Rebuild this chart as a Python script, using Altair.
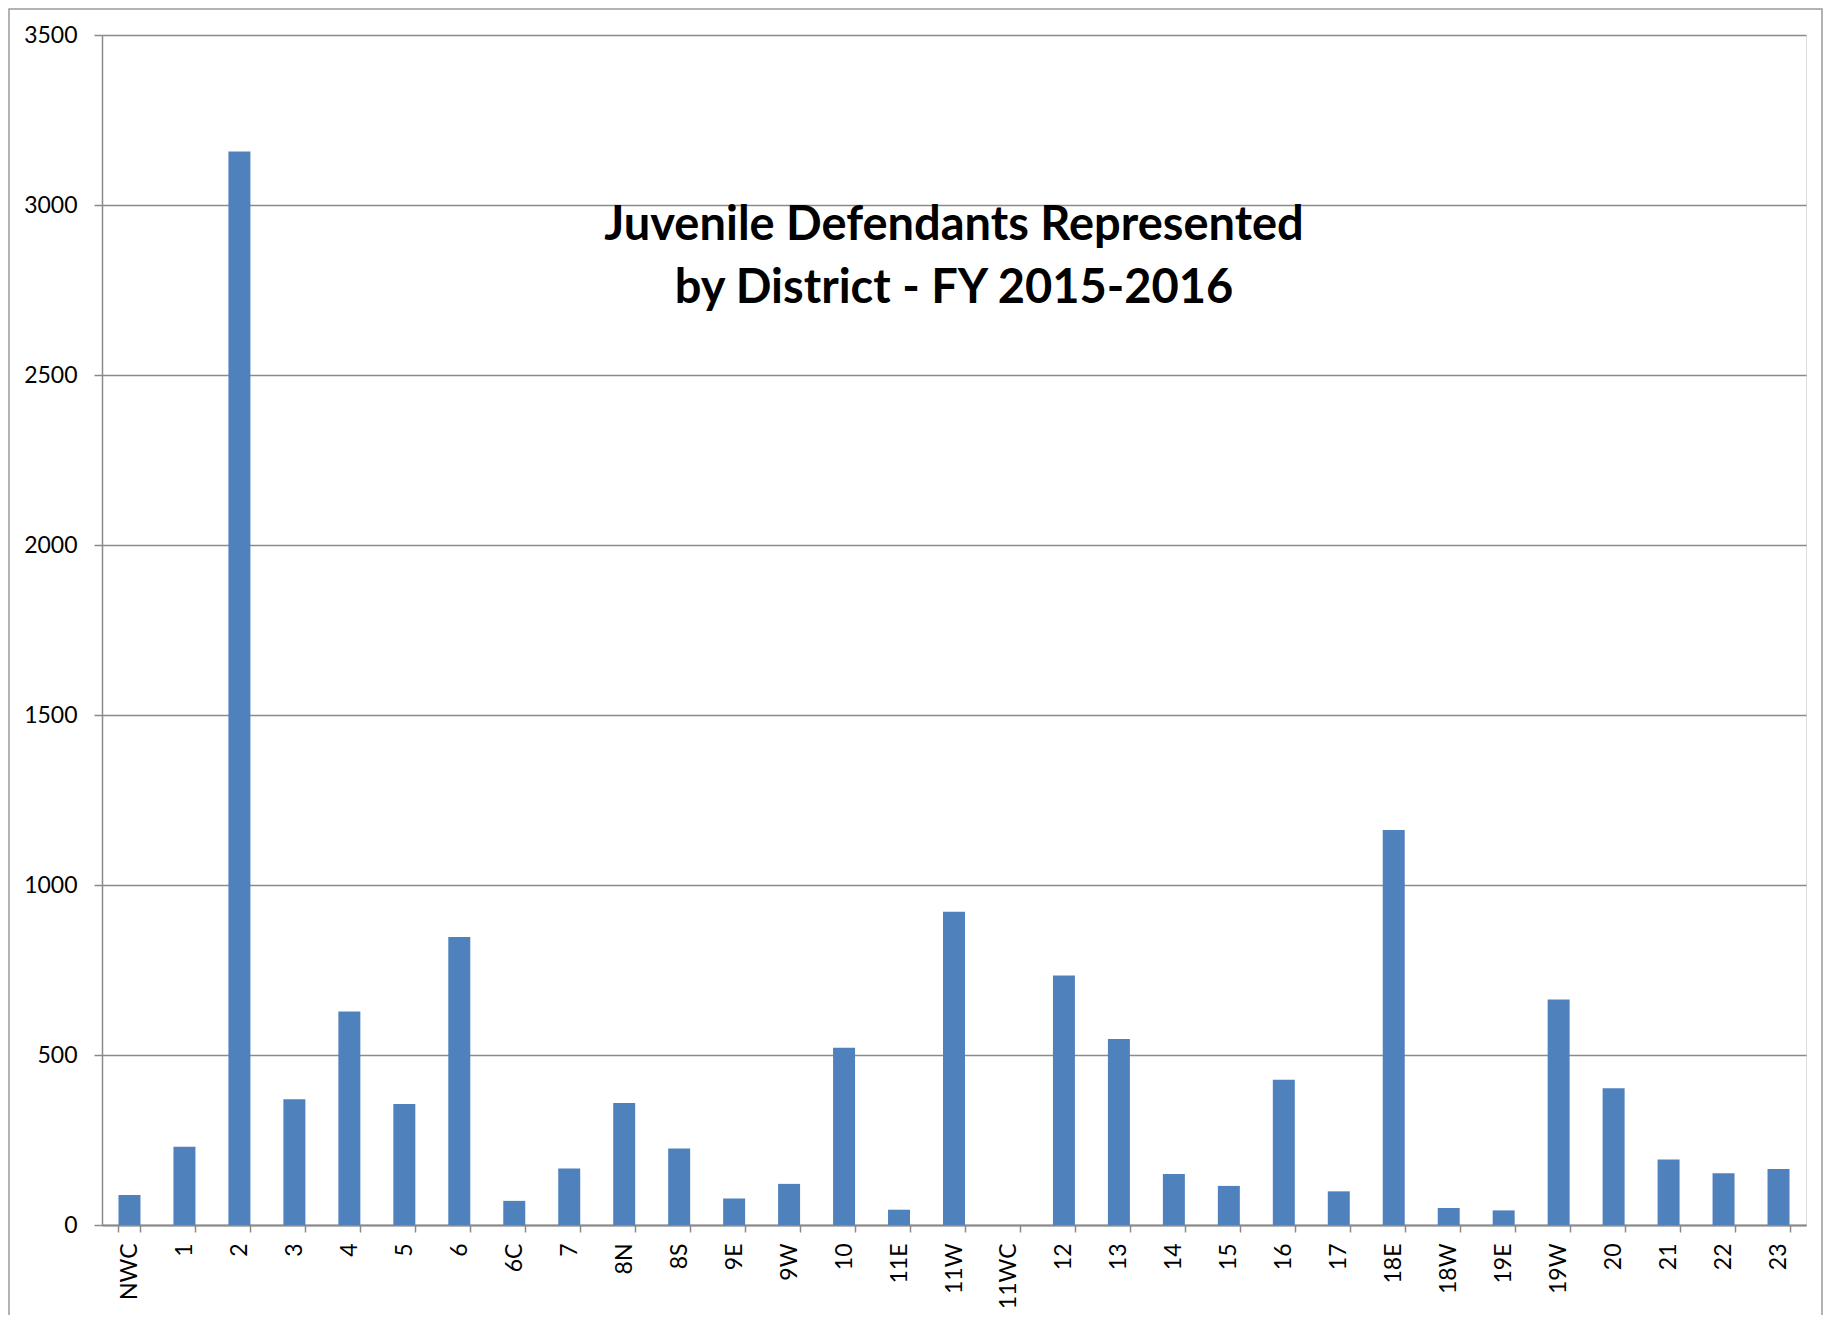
import altair as alt
import pandas as pd

districts = ["NWC", "1", "2", "3", "4", "5", "6", "6C", "7", "8N", "8S", "9E", "9W",
             "10", "11E", "11W", "11WC", "12", "13", "14", "15", "16", "17", "18E",
             "18W", "19E", "19W", "20", "21", "22", "23"]
defendants = [88, 230, 3157, 370, 628, 356, 847, 71, 166, 359, 225, 78, 121,
              521, 45, 921, 0, 734, 547, 150, 115, 427, 99, 1162,
              50, 43, 663, 402, 193, 152, 165]
y_ticks = [0, 500, 1000, 1500, 2000, 2500, 3000, 3500]
title_lines = ["Juvenile Defendants Represented", "by District - FY 2015-2016"]

df = pd.DataFrame({"district": districts, "count": defendants})

W, H = 1704, 1190
GRAY = "#8a8a8a"

bars = alt.Chart(df).mark_bar(color="#4F81BD").encode(
    x=alt.X(
        "district:N",
        sort=districts,
        scale=alt.Scale(paddingInner=0.6, paddingOuter=0.3),
        axis=alt.Axis(
            title=None, labelAngle=-90, tickBand="extent", grid=False,
            domainColor=GRAY, domainWidth=2, tickColor=GRAY, tickWidth=1.5,
            tickSize=7, labelPadding=11, labelFont="Lato", labelFontSize=23,
            labelColor="#000000",
        ),
    ),
    y=alt.Y(
        "count:Q",
        scale=alt.Scale(domain=[0, 3500], nice=False),
        axis=alt.Axis(
            title=None, values=y_ticks, format="d", grid=True, gridColor=GRAY,
            gridWidth=1.5, domainColor=GRAY, domainWidth=1.5, tickColor=GRAY,
            tickWidth=1.5, tickSize=8, labelPadding=17, labelFont="Lato",
            labelFontSize=23, labelColor="#000000",
        ),
    ),
)

frame = alt.Chart(pd.DataFrame({"f": [0]})).mark_rect(
    filled=False, stroke="#9a9a9a", strokeWidth=1.5
).encode(
    x=alt.value(-93), x2=alt.value(W + 16), y=alt.value(-26), y2=alt.value(H + 150)
)

chart = alt.layer(frame, bars).properties(
    width=W,
    height=H,
    autosize=alt.AutoSizeParams(type="none"),
    padding={"left": 94, "top": 27, "right": 20, "bottom": 90},
    title=alt.Title(
        title_lines, font="Lato", fontSize=47, fontWeight="bold", color="#000000",
        anchor="middle", offset=-305, lineHeight=63,
    ),
).configure_view(stroke=None).configure(background="white")

chart.save("out.html", embed_options={"renderer": "svg", "actions": False})
